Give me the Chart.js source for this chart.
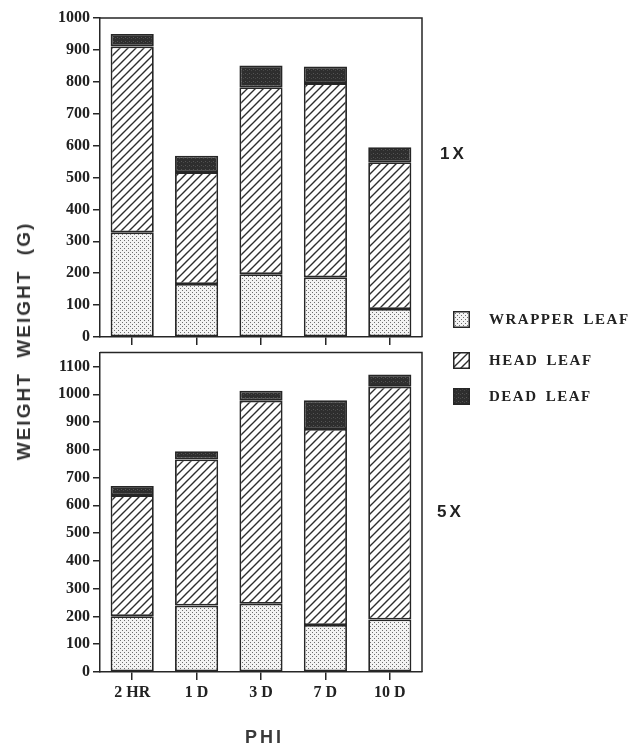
<!DOCTYPE html>
<html lang="en">
<head>
<meta charset="UTF-8">
<title>Weight by PHI</title>
<script src="https://cdn.jsdelivr.net/npm/chart.js"></script>
<style>
  body { margin: 0; background: #fff; }
  #page { position: relative; width: 631px; height: 747px; overflow: hidden; }
  .box { position: absolute; left: 0; }
  .ytitle {
    position: absolute; left: 24px; top: 341px;
    transform: translate(-50%, -50%) rotate(-90deg);
    font: bold 19px "Liberation Sans", Arial, sans-serif; color: #333;
    letter-spacing: 2px; white-space: pre;
  }
  .xtitle {
    position: absolute; left: 263px; top: 737px;
    transform: translate(-50%, -50%);
    font: bold 18px "Liberation Sans", Arial, sans-serif; color: #3a3a3a;
    letter-spacing: 3px; padding-left: 3px;
  }
  .dose {
    position: absolute; font: bold 17px "Liberation Sans", Arial, sans-serif;
    color: #222; letter-spacing: 3px;
  }
  .leg { position: absolute; left: 453px; height: 18px; white-space: nowrap; }
  .leg canvas { position: absolute; left: 0; top: 1px; }
  .leg span {
    position: absolute; left: 36px; top: 0;
    font: bold 15px "Liberation Serif", "Times New Roman", serif; color: #222;
    letter-spacing: 1.5px; word-spacing: 3px; line-height: 18px;
  }
</style>
</head>
<body>
<div id="page">
  <div class="box" style="top:0"><canvas id="chart1x" width="631" height="350"></canvas></div>
  <div class="box" style="top:340px"><canvas id="chart5x" width="631" height="407"></canvas></div>
  <div class="ytitle">WEIGHT  WEIGHT  (G)</div>
  <div class="xtitle">PHI</div>
  <div class="dose" style="left:440px; top:144px">1X</div>
  <div class="dose" style="left:437px; top:502px">5X</div>
  <div class="leg" style="top:310px"><canvas id="sw0" width="17" height="17"></canvas><span>WRAPPER LEAF</span></div>
  <div class="leg" style="top:351px"><canvas id="sw1" width="17" height="17"></canvas><span>HEAD LEAF</span></div>
  <div class="leg" style="top:387px"><canvas id="sw2" width="17" height="17"></canvas><span>DEAD LEAF</span></div>
</div>

<script>
const categories = ['2 HR', '1 D', '3 D', '7 D', '10 D'];
const seriesNames = ['WRAPPER LEAF', 'HEAD LEAF', 'DEAD LEAF'];

// 1X panel (grams)
const wrapper1X = [328, 166, 197, 187, 88];
const head1X    = [583, 351, 586, 609, 460];
const dead1X    = [39, 51, 68, 52, 47];

// 5X panel (grams)
const wrapper5X = [201, 239, 246, 169, 189];
const head5X    = [436, 526, 731, 706, 838];
const dead5X    = [33, 30, 36, 103, 44];

// y tick labels
const yTicks1X = [0, 100, 200, 300, 400, 500, 600, 700, 800, 900, 1000];
const yTicks5X = [0, 100, 200, 300, 400, 500, 600, 700, 800, 900, 1000, 1100];

const ink = '#262626';

function makeTile(size, draw) {
    const c = document.createElement('canvas');
    c.width = size; c.height = size;
    draw(c.getContext('2d'));
    return document.createElement('canvas').getContext('2d').createPattern(c, 'repeat');
}

const dotPattern = makeTile(4, g => {
    g.fillStyle = '#f3f3f3'; g.fillRect(0, 0, 4, 4);
    g.fillStyle = '#6e6e6e';
    g.fillRect(0, 0, 1, 1);
    g.fillRect(2, 2, 1, 1);
});

const hatchPattern = makeTile(8, g => {
    g.fillStyle = '#fff'; g.fillRect(0, 0, 8, 8);
    g.strokeStyle = '#2e2e2e'; g.lineWidth = 1.4;
    g.beginPath();
    g.moveTo(0, 8); g.lineTo(8, 0);
    g.moveTo(-1, 1); g.lineTo(1, -1);
    g.moveTo(7, 9); g.lineTo(9, 7);
    g.stroke();
});

const deadPattern = makeTile(4, g => {
    g.fillStyle = '#2e2e2e'; g.fillRect(0, 0, 4, 4);
    g.fillStyle = '#555';
    g.fillRect(1, 1, 1, 1);
    g.fillStyle = '#484848';
    g.fillRect(3, 2, 1, 1);
});

const fills = [dotPattern, hatchPattern, deadPattern];

// legend swatches
fills.forEach((f, i) => {
    const g = document.getElementById('sw' + i).getContext('2d');
    g.fillStyle = f; g.fillRect(0, 0, 17, 17);
    g.strokeStyle = ink; g.lineWidth = 1.5; g.strokeRect(0.75, 0.75, 15.5, 15.5);
});

const framePlugin = {
    id: 'frame',
    afterDraw(chart) {
        const a = chart.chartArea, g = chart.ctx;
        g.save();
        g.strokeStyle = ink; g.lineWidth = 1.5;
        g.beginPath();
        g.moveTo(a.left, a.top); g.lineTo(a.right, a.top); g.lineTo(a.right, a.bottom);
        g.stroke();
        g.restore();
    }
};

const tickFont = { family: '"Liberation Serif", "Times New Roman", serif', weight: 'bold', size: 16 };

function makeDatasets(w, h, d) {
    return [w, h, d].map((vals, i) => ({
        label: seriesNames[i],
        data: vals,
        backgroundColor: fills[i],
        borderColor: ink,
        borderWidth: 1.8,
        borderSkipped: false,
        categoryPercentage: 1,
        barPercentage: 0.67
    }));
}

function makeChart(id, datasets, yMax, yTicks, xHeight, showLabels, padTop) {
    return new Chart(document.getElementById(id), {
        type: 'bar',
        data: { labels: categories, datasets: datasets },
        plugins: [framePlugin],
        options: {
            responsive: false,
            animation: false,
            devicePixelRatio: 1,
            layout: { padding: { left: 0, right: 209, top: padTop, bottom: 0 } },
            plugins: { legend: { display: false }, tooltip: { enabled: false } },
            scales: {
                x: {
                    stacked: true,
                    grid: { offset: false, drawOnChartArea: false, drawTicks: true, tickLength: 8, color: ink, lineWidth: 1.5 },
                    border: { display: true, color: ink, width: 1.5 },
                    ticks: { display: showLabels, font: tickFont, color: '#222', padding: 3, maxRotation: 0 },
                    afterFit(scale) { scale.height = xHeight; }
                },
                y: {
                    stacked: true,
                    min: 0, max: yMax,
                    grid: { drawOnChartArea: false, drawTicks: true, tickLength: 7, color: ink, lineWidth: 1.5 },
                    border: { display: true, color: ink, width: 1.5 },
                    ticks: { font: tickFont, color: '#222', padding: 3, callback: v => String(v) },
                    afterBuildTicks(scale) { scale.ticks = yTicks.map(v => ({ value: v })); },
                    afterFit(scale) { scale.width = 100; }
                }
            }
        }
    });
}

makeChart('chart1x', makeDatasets(wrapper1X, head1X, dead1X), 1000, yTicks1X, 13, false, 18);
makeChart('chart5x', makeDatasets(wrapper5X, head5X, dead5X), 1150, yTicks5X, 75, true, 12);
</script>
</body>
</html>
